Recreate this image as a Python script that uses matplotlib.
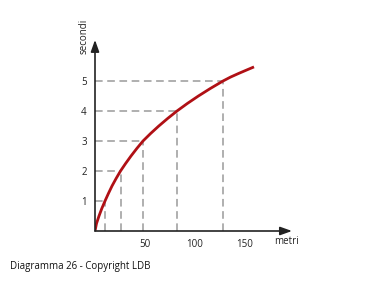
import matplotlib
matplotlib.use("Agg")
import matplotlib.pyplot as plt

# punti (metri, secondi)
curva_m = [0, 1.5, 4, 6.8, 10, 13.4, 17, 21.1, 25.5, 30.6, 36, 41.8, 48,
           55.6, 63.8, 72.6, 82, 92.3, 103.4, 115.3, 128, 135.5, 143.5, 151.2, 159]
curva_s = [0, 0.25, 0.5, 0.75, 1, 1.25, 1.5, 1.75, 2, 2.25, 2.5, 2.75, 3,
           3.25, 3.5, 3.75, 4, 4.25, 4.5, 4.75, 5, 5.13, 5.25, 5.36, 5.47]

# punti segnati con le linee tratteggiate
rif_m = [10, 25.5, 48, 82, 128]
rif_s = [1, 2, 3, 4, 5]

xticks = [50, 100, 150]
yticks = [1, 2, 3, 4, 5]

plt.rcParams['font.family'] = ['Open Sans', 'DejaVu Sans']

fig = plt.figure(figsize=(3.8, 2.85), dpi=100)
ax = fig.add_axes([95 / 380, 54 / 285, 200 / 380, 195 / 285])
ax.set_xlim(0, 200)
ax.set_ylim(0, 6.5)

for s in ax.spines.values():
    s.set_visible(False)
ax.patch.set_alpha(0)

# linee tratteggiate
for m, s in zip(rif_m, rif_s):
    ax.plot([0, m], [s, s], color='#9a9a9a', lw=1.1, ls=(0, (5, 3)), zorder=1)
    ax.plot([m, m], [0, s], color='#9a9a9a', lw=1.1, ls=(0, (5, 3)), zorder=1)

# curva
ax.plot(curva_m, curva_s, color='#b01015', lw=2, solid_capstyle='butt',
        solid_joinstyle='round', zorder=3)

# assi con freccia
arrow = dict(arrowstyle='-|>,head_length=0.7,head_width=0.25', color='#222222', lw=1.2,
             shrinkA=0, shrinkB=0)
ax.annotate('', xy=(197, 0), xytext=(0, 0), arrowprops=arrow, annotation_clip=False)
ax.annotate('', xy=(0, 6.37), xytext=(0, 0), arrowprops=arrow, annotation_clip=False)

ax.set_xticks(xticks)
ax.set_yticks(yticks)
ax.tick_params(length=0, labelsize=7, colors='#222222', pad=6)

ax.text(179, -0.36, 'metri', fontsize=7, color='#222222', ha='left', va='center')
ax.text(-11, 6.48, 'secondi', fontsize=7, color='#222222', rotation=90,
        ha='center', va='center')

fig.text(10 / 380, 1 - 266 / 285, 'Diagramma 26 - Copyright LDB', fontsize=7,
         color='#111111', ha='left', va='center')

fig.savefig('out.png', dpi=100)
